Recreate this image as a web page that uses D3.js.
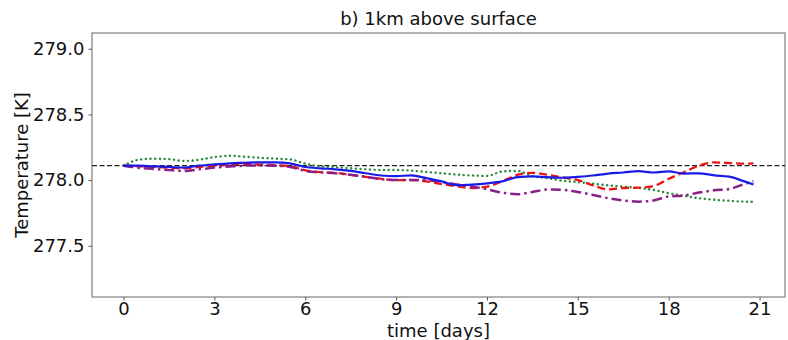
<!DOCTYPE html>
<html>
<head>
<meta charset="utf-8">
<script src="https://cdn.jsdelivr.net/npm/d3@7"></script>
<style>
  body { margin: 0; background: #fff; }
  svg { display: block; font-family: "DejaVu Sans", sans-serif; }
</style>
</head>
<body>
<div id="chart"></div>
<script>
// time axis, in days (half-day steps, last point at 20.8)
const days = [0, 0.5, 1, 1.5, 2, 2.5, 3, 3.5, 4, 4.5, 5, 5.5, 6, 6.5, 7, 7.5, 8, 8.5, 9, 9.5, 10,
              10.5, 11, 11.5, 12, 12.5, 13, 13.5, 14, 14.5, 15, 15.5, 16, 16.5, 17, 17.5, 18, 18.5,
              19, 19.5, 20, 20.5, 20.8];

const blueSolid = [278.11, 278.11, 278.105, 278.10, 278.095, 278.11, 278.12, 278.128, 278.132, 278.135,
                   278.135, 278.128, 278.10, 278.09, 278.082, 278.07, 278.052, 278.035, 278.03, 278.036,
                   278.015, 277.99, 277.962, 277.966, 277.975, 277.99, 278.022, 278.028, 278.022, 278.018,
                   278.025, 278.035, 278.05, 278.058, 278.068, 278.058, 278.066, 278.05, 278.052, 278.036,
                   278.026, 277.99, 277.967];

const redDashed = [278.11, 278.105, 278.10, 278.095, 278.09, 278.10, 278.11, 278.118, 278.122, 278.118,
                   278.113, 278.105, 278.075, 278.06, 278.055, 278.04, 278.025, 278.01, 278.0, 278.0,
                   277.99, 277.97, 277.954, 277.94, 277.95, 277.99, 278.04, 278.055, 278.04, 278.02,
                   278.0, 277.96, 277.93, 277.94, 277.942, 277.955, 278.01, 278.06, 278.11, 278.135,
                   278.13, 278.125, 278.127];

const greenDotted = [278.11, 278.155, 278.163, 278.16, 278.145, 278.155, 278.175, 278.185, 278.178, 278.17,
                     278.163, 278.158, 278.125, 278.105, 278.098, 278.09, 278.082, 278.077, 278.077, 278.072,
                     278.062, 278.052, 278.042, 278.035, 278.032, 278.065, 278.07, 278.03, 278.015, 277.995,
                     277.985, 277.972, 277.96, 277.95, 277.94, 277.925, 277.9, 277.88, 277.862, 277.85,
                     277.842, 277.836, 277.835];

const purpleDashDot = [278.11, 278.094, 278.085, 278.076, 278.07, 278.082, 278.095, 278.103, 278.11, 278.112,
                       278.11, 278.10, 278.07, 278.06, 278.052, 278.04, 278.025, 278.008, 278.0, 278.0,
                       278.0, 277.985, 277.967, 277.952, 277.93, 277.905, 277.892, 277.91, 277.928, 277.926,
                       277.91, 277.887, 277.862, 277.845, 277.836, 277.845, 277.876, 277.882, 277.905, 277.922,
                       277.932, 277.97, 277.992];

const reference = 278.11;
const xTicks = [0, 3, 6, 9, 12, 15, 18, 21];
const yTicks = [277.5, 278.0, 278.5, 279.0];

const width = 788,
      height = 340,
      margin = ({ top: 33, right: 3, bottom: 43, left: 92 });

let svg = d3.select("#chart")
    .append("svg")
    .attr("width", width)
    .attr("height", height);

let x = d3.scaleLinear()
    .domain([-1.04, 21.84])
    .range([margin.left, width - margin.right]);

let y = d3.scaleLinear()
    .domain([277.11, 279.12])
    .range([height - margin.bottom, margin.top]);

// axes (ticks point outwards like matplotlib)
let xAxis = svg.append("g")
    .attr("transform", `translate(0,${height - margin.bottom})`)
    .call(d3.axisBottom(x).tickValues(xTicks).tickSize(3.5).tickPadding(2).tickFormat(d3.format("d")));

let yAxis = svg.append("g")
    .attr("transform", `translate(${margin.left},0)`)
    .call(d3.axisLeft(y).tickValues(yTicks).tickSize(3.5).tickPadding(4).tickFormat(d3.format(".1f")));

for (let ax of [xAxis, yAxis]) {
    ax.select(".domain").remove();
    ax.selectAll(".tick line").attr("stroke", "#555");
    ax.selectAll(".tick text").attr("fill", "#111").attr("font-size", 18).attr("font-family", "DejaVu Sans");
}

// frame
svg.append("rect")
    .attr("x", margin.left)
    .attr("y", margin.top)
    .attr("width", width - margin.right - margin.left)
    .attr("height", height - margin.bottom - margin.top)
    .attr("fill", "none")
    .attr("stroke", "#666")
    .attr("stroke-width", 1);

// horizontal reference line
svg.append("line")
    .attr("x1", margin.left)
    .attr("x2", width - margin.right)
    .attr("y1", y(reference))
    .attr("y2", y(reference))
    .attr("stroke", "#222")
    .attr("stroke-width", 1.3)
    .attr("stroke-dasharray", "5,2.5");

const series = [
    { values: greenDotted, color: "#2a8a3a", width: 2.4, dash: "0.1,4.6", cap: "round" },
    { values: redDashed, color: "#ee1111", width: 2.3, dash: "8,4", cap: "butt" },
    { values: purpleDashDot, color: "#8a1f8a", width: 2.5, dash: "10,4,2.5,4", cap: "butt" },
    { values: blueSolid, color: "#1a1ae6", width: 2.2, dash: null, cap: "butt" }
];

let line = d3.line()
    .x(d => x(d[0]))
    .y(d => y(d[1]))
    .curve(d3.curveMonotoneX);

for (let s of series) {
    svg.append("path")
        .datum(days.map((d, i) => [d, s.values[i]]))
        .attr("fill", "none")
        .attr("stroke", s.color)
        .attr("stroke-width", s.width)
        .attr("stroke-linecap", s.cap)
        .attr("stroke-dasharray", s.dash)
        .attr("d", line);
}

// title and labels
svg.append("text")
    .attr("x", (margin.left + width - margin.right) / 2)
    .attr("y", 25)
    .attr("text-anchor", "middle")
    .attr("font-size", 18)
    .attr("fill", "#111")
    .text("b) 1km above surface");

svg.append("text")
    .attr("x", (margin.left + width - margin.right) / 2)
    .attr("y", 337)
    .attr("text-anchor", "middle")
    .attr("font-size", 18)
    .attr("fill", "#111")
    .text("time [days]");

svg.append("text")
    .attr("transform", `translate(28,${(margin.top + height - margin.bottom) / 2}) rotate(-90)`)
    .attr("text-anchor", "middle")
    .attr("font-size", 18)
    .attr("fill", "#111")
    .text("Temperature [K]");
</script>
</body>
</html>
